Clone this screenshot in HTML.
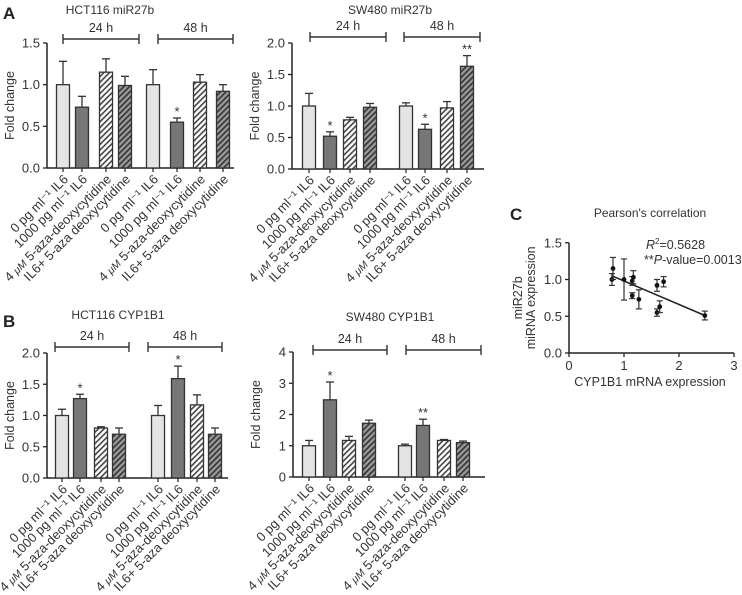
<!DOCTYPE html>
<html><head><meta charset="utf-8">
<style>
html,body{margin:0;padding:0;background:#fff;}
svg{display:block;font-family:"Liberation Sans",sans-serif;}
</style></head>
<body>
<svg id="fig" width="742" height="595" viewBox="0 0 742 595">
<defs>
<pattern id="hatchW" patternUnits="userSpaceOnUse" width="4" height="4" patternTransform="rotate(45)">
<rect width="4" height="4" fill="#fff"/><rect width="1.6" height="4" fill="#444"/></pattern>
<pattern id="hatchD" patternUnits="userSpaceOnUse" width="4" height="4" patternTransform="rotate(45)">
<rect width="4" height="4" fill="#999"/><rect width="1.6" height="4" fill="#333"/></pattern>
</defs>
<text x="3" y="19" font-size="17" font-weight="bold" fill="#222">A</text>
<text x="3" y="327" font-size="17" font-weight="bold" fill="#222">B</text>
<text x="510" y="220" font-size="17" font-weight="bold" fill="#222">C</text>
</svg>
<script>
const categories = ["0 pg ml\u207B\u00B9 IL6","1000 pg ml\u207B\u00B9 IL6","4 \u03BCM 5-aza-deoxycytidine","IL6+ 5-aza deoxycytidine"];
const aLeftValues = [1.0,0.73,1.15,0.99,1.0,0.55,1.03,0.92];
const aLeftErrors = [0.28,0.13,0.16,0.11,0.18,0.05,0.09,0.08];
const aLeftStars = ["","","","","","*","",""];
const aRightValues = [1.0,0.52,0.78,0.98,1.0,0.63,0.97,1.63];
const aRightErrors = [0.2,0.07,0.04,0.06,0.05,0.08,0.1,0.17];
const aRightStars = ["","*","","","","*","","**"];
const bLeftValues = [1.0,1.27,0.8,0.7,1.0,1.59,1.17,0.7];
const bLeftErrors = [0.1,0.07,0.02,0.1,0.16,0.2,0.16,0.1];
const bLeftStars = ["","*","","","","*","",""];
const bRightValues = [1.0,2.47,1.17,1.72,1.0,1.65,1.17,1.1];
const bRightErrors = [0.17,0.57,0.13,0.1,0.05,0.2,0.03,0.05];
const bRightStars = ["","*","","","","**","",""];
const ticks15 = [0,0.5,1.0,1.5];
const ticks20 = [0,0.5,1.0,1.5,2.0];
const ticks4 = [0,1,2,3,4];
const corrX = [0.78,0.8,1.0,1.15,1.15,1.17,1.27,1.6,1.6,1.65,1.72,2.47];
const corrY = [1.0,1.15,1.0,0.78,0.98,1.03,0.73,0.55,0.92,0.63,0.97,0.51];
const corrErr = [0.08,0.15,0.28,0.04,0.06,0.09,0.13,0.05,0.08,0.08,0.07,0.06];
const fitX = [0.78,2.47];
const fitY = [1.05,0.51];
const cXTicks = [0,1,2,3];
const cYTicks = [0,0.5,1.0,1.5];

const NS="http://www.w3.org/2000/svg";
const svg=document.getElementById('fig');
function mk(tag,attrs,parent,txt){const e=document.createElementNS(NS,tag);for(const k in attrs)e.setAttribute(k,attrs[k]);if(txt!==undefined)e.textContent=txt;(parent||svg).appendChild(e);return e;}
const fills=["#e4e4e4","#777","url(#hatchW)","url(#hatchD)"];

function barPanel(o){
  const g=mk('g',{});
  
  
  const yS=v=>o.y0-(v/o.ymax)*(o.y0-o.ytop);
  const t=mk('text',{x:o.titleX,y:o.titleY,'font-size':12,'text-anchor':'middle',fill:'#333'},g,o.title);
  
  
  const ya=mk('line',{x1:o.ax,y1:o.ytop,x2:o.ax,y2:o.y0,stroke:'#222','stroke-width':1.5},g);
  
  
  const xa=mk('line',{x1:o.ax,y1:o.y0,x2:o.axEnd,y2:o.y0,stroke:'#222','stroke-width':1.5},g);
  
  
  o.ticks.forEach(v=>{
    const y=yS(v);
    mk('line',{x1:o.ax-4,y1:y,x2:o.ax,y2:y,stroke:'#222','stroke-width':1.3},g);
    const tl=mk('text',{x:o.ax-7,y:y+4.5,'font-size':13,'text-anchor':'end',fill:'#333'},g,o.fmt(v));
    
    
  });
  const yl=mk('text',{x:0,y:0,'font-size':12.5,'text-anchor':'middle',fill:'#333',transform:`translate(${o.ax-33},${(o.ytop+o.y0)/2}) rotate(-90)`},g,'Fold change');
  
  
  o.brackets.forEach((b,i)=>{
    const bg=mk('g',{stroke:'#333','stroke-width':1.4},g);
    mk('line',{x1:b[0],y1:o.by,x2:b[1],y2:o.by},bg);
    mk('line',{x1:b[0],y1:o.by-5,x2:b[0],y2:o.by+5},bg);
    mk('line',{x1:b[1],y1:o.by-5,x2:b[1],y2:o.by+5},bg);
    const bt=mk('text',{x:(b[0]+b[1])/2,y:o.by-7,'font-size':12.5,'text-anchor':'middle',fill:'#333'},g,i==0?'24 h':'48 h');
    
    
  });
  o.values.forEach((v,i)=>{
    const cx=o.centers[i], w=13, top=yS(v), et=yS(v+o.errors[i]);
    mk('line',{x1:cx,y1:et,x2:cx,y2:top,stroke:'#333','stroke-width':1.3},g);
    mk('line',{x1:cx-4,y1:et,x2:cx+4,y2:et,stroke:'#333','stroke-width':1.3},g);
    const r=mk('rect',{x:cx-w/2,y:top,width:w,height:o.y0-top,fill:fills[i%4],stroke:'#333','stroke-width':1.3},g);
    
    
    mk('line',{x1:cx,y1:o.y0,x2:cx,y2:o.y0+4,stroke:'#222','stroke-width':1.2},g);
    if(o.stars[i]){
      const s=mk('text',{x:cx,y:et-2,'font-size':13,'text-anchor':'middle',fill:'#333'},g,o.stars[i]);
      
      
    }
    const lb=mk('text',{x:0,y:0,'font-size':13,'text-anchor':'end',fill:'#333',transform:`translate(${cx+6},${o.y0+12}) rotate(-45)`},g);
    
    
    const c=categories[i%4];
    if(i%4==2){mk('tspan',{},lb,'4 ');mk('tspan',{'font-style':'italic','font-size':10.5},lb,'\u03BCM');mk('tspan',{},lb,' 5-aza-deoxycytidine');}
    else lb.textContent=c;
  });
}
const f1=v=>v.toFixed(1), f0=v=>String(v);
barPanel({name:'hct116-mir27b-chart',title:'HCT116 miR27b',titleX:110,titleY:14,ax:47,axEnd:234,ytop:43,y0:168,ymax:1.5,ticks:ticks15,fmt:f1,by:39,brackets:[[63,139],[158,233]],centers:[63,82,106,125,153,177,200,223],values:aLeftValues,errors:aLeftErrors,stars:aLeftStars});
barPanel({name:'sw480-mir27b-chart',title:'SW480 miR27b',titleX:390,titleY:14,ax:292,axEnd:484,ytop:43,y0:169,ymax:2.0,ticks:ticks20,fmt:f1,by:37,brackets:[[310,386],[404,480]],centers:[309,330,350,370,406,425,447,467],values:aRightValues,errors:aRightErrors,stars:aRightStars});
barPanel({name:'hct116-cyp1b1-chart',title:'HCT116 CYP1B1',titleX:118,titleY:319,ax:47,axEnd:228,ytop:353,y0:478,ymax:2.0,ticks:ticks20,fmt:f1,by:347,brackets:[[55,129],[148,222]],centers:[62,80,101,119,158,178,197,215],values:bLeftValues,errors:bLeftErrors,stars:bLeftStars});
barPanel({name:'sw480-cyp1b1-chart',title:'SW480 CYP1B1',titleX:390,titleY:321,ax:293,axEnd:485,ytop:352,y0:477,ymax:4,ticks:ticks4,fmt:f0,by:350,brackets:[[313,387],[406,481]],centers:[309,330,349,369,405,423,444,463],values:bRightValues,errors:bRightErrors,stars:bRightStars});

(function(){
  const g=mk('g',{});
  
  
  const x0=569, xu=55, y0=353, yu=73.5;
  const xS=v=>x0+v*xu, yS=v=>y0-v*yu;
  const t=mk('text',{x:650,y:217,'font-size':12,'text-anchor':'middle',fill:'#333'},g,"Pearson's correlation");
  
  
  const ya=mk('line',{x1:x0,y1:yS(1.5),x2:x0,y2:y0,stroke:'#222','stroke-width':1.5},g);
  
  
  const xa=mk('line',{x1:x0,y1:y0,x2:xS(3),y2:y0,stroke:'#222','stroke-width':1.5},g);
  
  
  cYTicks.forEach(v=>{mk('line',{x1:x0-4,y1:yS(v),x2:x0,y2:yS(v),stroke:'#222','stroke-width':1.3},g);
    const l=mk('text',{x:x0-7,y:yS(v)+4.5,'font-size':13,'text-anchor':'end',fill:'#333'},g,v.toFixed(1));
    
    });
  cXTicks.forEach(v=>{mk('line',{x1:xS(v),y1:y0,x2:xS(v),y2:y0+4,stroke:'#222','stroke-width':1.3},g);
    const l=mk('text',{x:xS(v),y:y0+17,'font-size':13,'text-anchor':'middle',fill:'#333'},g,String(v));
    
    });
  const xt=mk('text',{x:650,y:386,'font-size':12.5,'text-anchor':'middle',fill:'#333'},g,'CYP1B1 mRNA expression');
  
  
  const yt=mk('text',{x:0,y:0,'font-size':12.5,'text-anchor':'middle',fill:'#333',transform:`translate(522,${yS(0.75)}) rotate(-90)`},g);
  
  
  mk('tspan',{x:0,dy:0},yt,'miR27b');
  mk('tspan',{x:0,dy:13},yt,'miRNA expression');
  const fl=mk('line',{x1:xS(fitX[0]),y1:yS(fitY[0]),x2:xS(fitX[1]),y2:yS(fitY[1]),stroke:'#222','stroke-width':1.6},g);
  
  
  corrX.forEach((xv,i)=>{
    const cx=xS(xv), cy=yS(corrY[i]), e=corrErr[i]*yu;
    const eg=mk('g',{stroke:'#333','stroke-width':1.2},g);
    mk('line',{x1:cx,y1:cy-e,x2:cx,y2:cy+e},eg);
    mk('line',{x1:cx-3,y1:cy-e,x2:cx+3,y2:cy-e},eg);
    mk('line',{x1:cx-3,y1:cy+e,x2:cx+3,y2:cy+e},eg);
    const p=mk('circle',{cx:cx,cy:cy,r:2.4,fill:'#111'},g);
    
    
  });
  const r2=mk('text',{x:646,y:249,'font-size':12.5,fill:'#333'},g);
  
  
  mk('tspan',{'font-style':'italic'},r2,'R');mk('tspan',{'font-size':8,dy:-5},r2,'2');mk('tspan',{dy:5},r2,'=0.5628');
  const pv=mk('text',{x:644,y:264,'font-size':12.5,fill:'#333'},g);
  
  
  mk('tspan',{},pv,'**');mk('tspan',{'font-style':'italic'},pv,'P');mk('tspan',{},pv,'-value=0.0013');
})();
</script>
</body></html>
